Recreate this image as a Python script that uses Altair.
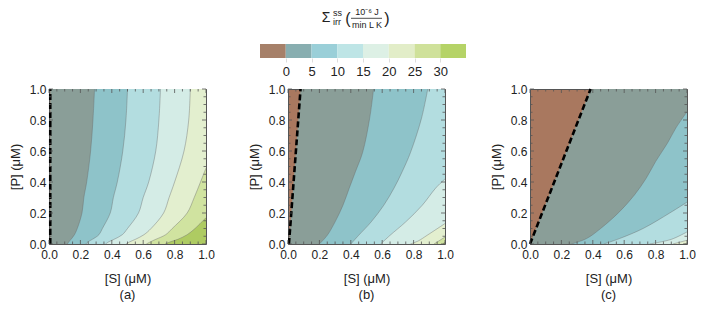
import altair as alt
import pandas as pd

FONT = "Liberation Sans"

# ---- contour levels and colours ----
LEVELS = [0, 5, 10, 15, 20, 25, 30]
PLOT_COLORS = ["#8A9E98", "#8EC3C9", "#B3DDE0", "#D4ECE6", "#E3EFCF", "#D0E3A0", "#AECB62"]
BROWN = "#A9785F"

# ---- colour bar ----
BAR_LO = [-5, 0, 5, 10, 15, 20, 25, 30]
BAR_HI = [0, 5, 10, 15, 20, 25, 30, 35]
BAR_COLORS = ["#A68069", "#88AEB0", "#9ACFD8", "#BEE5E6", "#DDF0E5", "#E2EDC8", "#CFE19A", "#B5D367"]
BAR_TICKS = [0, 5, 10, 15, 20, 25, 30]

# ---- panel (a): contour curves, S as function of P ----
A_P = [0, 0.015, 0.03, 0.06, 0.1, 0.2, 0.3, 0.4, 0.6, 0.8, 1.0]
A0_P = [0, 1.0]
A0_S = [0.008, 0.008]
A5_S = [0.117, 0.127, 0.14, 0.162, 0.18, 0.21, 0.222, 0.24, 0.265, 0.28, 0.29]
A10_S = [0.234, 0.25, 0.276, 0.318, 0.34, 0.39, 0.41, 0.435, 0.47, 0.49, 0.50]
A15_S = [0.36, 0.382, 0.414, 0.467, 0.50, 0.57, 0.60, 0.635, 0.68, 0.70, 0.71]
A20_S = [0.49, 0.516, 0.55, 0.605, 0.65, 0.73, 0.765, 0.80, 0.86, 0.89, 0.90]
A25_P = [0, 0.015, 0.03, 0.06, 0.1, 0.2, 0.3, 0.4, 0.49]
A25_S = [0.62, 0.648, 0.68, 0.743, 0.785, 0.88, 0.925, 0.965, 1.0]
A30_P = [0, 0.015, 0.03, 0.06, 0.1, 0.17]
A30_S = [0.74, 0.775, 0.82, 0.88, 0.93, 1.0]

# ---- panel (b) ----
B0_P = [0, 1.0]
B0_S = [0.006, 0.08]
B_P = [0, 0.056, 0.143, 0.25, 0.36, 0.468, 0.59, 0.81, 1.0]
B5_S = [0.20, 0.25, 0.30, 0.35, 0.39, 0.43, 0.475, 0.52, 0.545]
B10_S = [0.40, 0.45, 0.53, 0.61, 0.675, 0.728, 0.78, 0.85, 0.89]
B15_P = [0, 0.056, 0.143, 0.25, 0.36, 0.42]
B15_S = [0.59, 0.65, 0.75, 0.855, 0.94, 1.0]
B20_P = [0, 0.02, 0.056, 0.132]
B20_S = [0.78, 0.83, 0.886, 1.0]
B25_P = [0, 0.045]
B25_S = [0.93, 1.0]
B30_P = [0, 0.012]
B30_S = [0.985, 1.0]

# ---- panel (c) ----
C0_P = [0, 1.0]
C0_S = [0.0, 0.386]
C5_P = [0, 0.035, 0.1, 0.208, 0.316, 0.424, 0.532, 0.65, 0.75, 0.853]
C5_S = [0.264, 0.36, 0.45, 0.57, 0.665, 0.74, 0.80, 0.875, 0.93, 1.0]
C10_P = [0, 0.035, 0.1, 0.2, 0.27]
C10_S = [0.47, 0.57, 0.72, 0.89, 1.0]
C15_P = [0, 0.03, 0.078]
C15_S = [0.76, 0.9, 1.0]
C20_P = [0, 0.024]
C20_S = [0.91, 1.0]
C25_P = [0, 0.006]
C25_S = [0.98, 1.0]

MAJOR_TICKS = [0.0, 0.2, 0.4, 0.6, 0.8, 1.0]
MINOR_TICKS = [0.05, 0.1, 0.15, 0.25, 0.3, 0.35, 0.45, 0.5, 0.55, 0.65, 0.7, 0.75, 0.85, 0.9, 0.95]

CURVES = {
    "a": {0: (A0_P, A0_S), 5: (A_P, A5_S), 10: (A_P, A10_S), 15: (A_P, A15_S),
          20: (A_P, A20_S), 25: (A25_P, A25_S), 30: (A30_P, A30_S)},
    "b": {0: (B0_P, B0_S), 5: (B_P, B5_S), 10: (B_P, B10_S), 15: (B15_P, B15_S),
          20: (B20_P, B20_S), 25: (B25_P, B25_S), 30: (B30_P, B30_S)},
    "c": {0: (C0_P, C0_S), 5: (C5_P, C5_S), 10: (C10_P, C10_S), 15: (C15_P, C15_S),
          20: (C20_P, C20_S), 25: (C25_P, C25_S)},
}

rows = []
for pan, curves in CURVES.items():
    for lev, (ps, ss) in curves.items():
        for p, s in zip(ps, ss):
            rows.append({"panel": pan, "level": lev, "P": p, "S": s, "R": 1.0})
df = pd.DataFrame(rows)

W, H = 157, 155
INTERP = "catmull-rom"

xscale = alt.Scale(domain=[0, 1], nice=False, zero=False)
yscale = alt.Scale(domain=[0, 1], nice=False, zero=False)


def axis(title, orient):
    return alt.Axis(values=MAJOR_TICKS, format=".1f", title=title, grid=False, domain=False,
                    ticks=False, labelOverlap=False, labelFlush=False, labelFont=FONT,
                    labelFontSize=12, labelColor="#222", titleFont=FONT, titleFontSize=13,
                    titleFontWeight="normal", titleColor="#222",
                    labelPadding=5 if orient == "x" else 3,
                    titlePadding=12 if orient == "x" else 7)


XAX = axis("[S] (μM)", "x")
YAX = axis("[P] (μM)", "y")


def panel(name):
    d = df[df.panel == name]
    X = alt.X("S:Q", scale=xscale, axis=XAX)
    Y = alt.Y("P:Q", scale=yscale, axis=YAX)
    layers = []
    for lev, col in zip(LEVELS, PLOT_COLORS):
        dd = d[d.level == lev]
        if len(dd) == 0:
            continue
        layers.append(alt.Chart(dd).mark_area(orient="horizontal", color=col, opacity=1,
                                              interpolate=INTERP).encode(y=Y, x=X, x2="R:Q"))
    layers.append(alt.Chart(d[d.level > 0]).mark_line(color="#666", strokeWidth=0.5, opacity=0.8,
                                                      interpolate=INTERP).encode(
        x=X, y=Y, detail="level:N", order=alt.Order("P:Q")))
    layers.append(alt.Chart(d[d.level == 0]).mark_line(color="black", strokeWidth=2.6, strokeDash=[6, 3]).encode(
        x=X, y=Y, order=alt.Order("P:Q")))
    # inward frame ticks
    for vals, ln in ((MAJOR_TICKS, 4), (MINOR_TICKS, 2.5)):
        t = pd.DataFrame({"t": vals})
        tx = alt.X("t:Q", scale=xscale, axis=XAX)
        ty = alt.Y("t:Q", scale=yscale, axis=YAX)
        tk = dict(color="#555", strokeWidth=0.8)
        layers.append(alt.Chart(t).mark_rule(**tk).encode(x=tx, y=alt.value(0), y2=alt.value(ln)))
        layers.append(alt.Chart(t).mark_rule(**tk).encode(x=tx, y=alt.value(H), y2=alt.value(H - ln)))
        layers.append(alt.Chart(t).mark_rule(**tk).encode(y=ty, x=alt.value(0), x2=alt.value(ln)))
        layers.append(alt.Chart(t).mark_rule(**tk).encode(y=ty, x=alt.value(W), x2=alt.value(W - ln)))
    return alt.layer(*layers).properties(
        width=W, height=H,
        view=alt.ViewBackground(fill=BROWN, stroke="#555", strokeWidth=1),
        title=alt.TitleParams(f"({name})", orient="bottom", font=FONT, fontSize=13,
                              fontWeight="normal", color="#222", offset=4),
    )


# ---- colour bar chart ----
K = 5.15          # pixels per unit on the bar
LEFT = 48         # page x of the plot-area left edge (shared by the concat)
WL = 600
D0 = -5 - (259 - LEFT) / K
D1 = D0 + WL / K
bar_df = pd.DataFrame({"lo": BAR_LO, "hi": BAR_HI, "col": BAR_COLORS})
bscale = alt.Scale(domain=[D0, D1], nice=False, zero=False)
bar = alt.Chart(bar_df).mark_rect().encode(
    x=alt.X("lo:Q", scale=bscale, axis=alt.Axis(values=BAR_TICKS, title=None, grid=False, domain=False,
                                               tickSize=4, tickColor="#ddd", labelFont=FONT,
                                               labelFontSize=13, labelColor="#222", labelPadding=3,
                                               labelOverlap=False, labelFlush=False)),
    x2="hi:Q",
    y=alt.value(0), y2=alt.value(14),
    color=alt.Color("col:N", scale=None),
)

# title pieces: text, x (bar units), y (px relative to bar top), size, align
TITLE_TXT = ["Σ", "ss", "irr", "(", "10⁻⁶ J", "min L K", ")"]
TITLE_X = [7.82, 9.17, 9.17, 12.09, 15.78, 15.78, 19.66]
TITLE_Y = [-26, -31.5, -22.5, -25, -32, -19, -25]
TITLE_SIZE = [14, 9, 9, 16, 9, 9, 16]
TITLE_ALIGN = ["center", "left", "left", "center", "center", "center", "center"]
tparts = []
for txt, tx, ty, ts, ta in zip(TITLE_TXT, TITLE_X, TITLE_Y, TITLE_SIZE, TITLE_ALIGN):
    tparts.append(alt.Chart(pd.DataFrame({"v": [tx]})).mark_text(
        text=txt, font=FONT, fontSize=ts, align=ta, baseline="middle", color="#222").encode(
        x=alt.X("v:Q", scale=bscale), y=alt.value(ty)))
frac = alt.Chart(pd.DataFrame({"a": [12.67], "b": [18.69]})).mark_rule(color="#222", strokeWidth=0.8).encode(
    x=alt.X("a:Q", scale=bscale), x2="b:Q", y=alt.value(-25.7))

legend = alt.layer(bar, *tparts, frac).properties(
    width=WL, height=14, view=alt.ViewBackground(fill=None, stroke=None))

panels = alt.hconcat(alt.hconcat(panel("a"), panel("b"), spacing=32), panel("c"), spacing=35)

chart = alt.vconcat(legend, panels, spacing=4).properties(
    padding={"left": 0, "top": 0, "right": 0, "bottom": 0}
).configure(background="white")

chart.save("out.html", embed_options={"renderer": "svg", "actions": False})
